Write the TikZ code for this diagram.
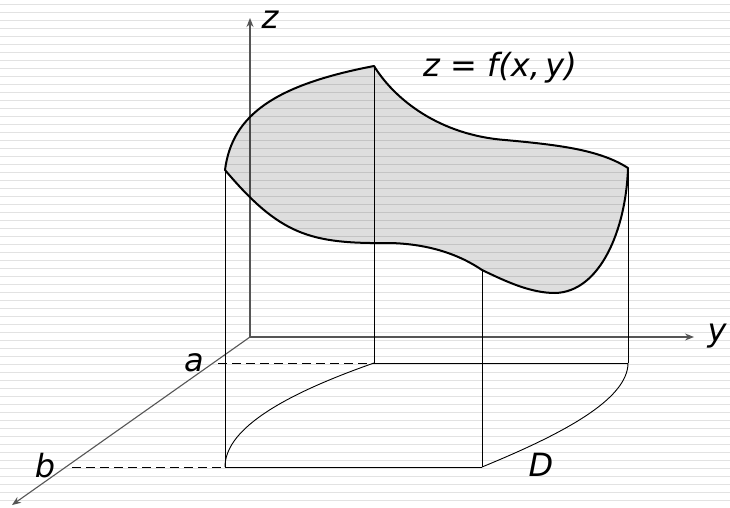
\documentclass[tikz,border=0pt]{standalone}
\usepackage{fontspec}
\setmainfont{DejaVu Sans}
\usetikzlibrary{arrows.meta,calc}
\definecolor{AxisGray}{HTML}{555555}
\definecolor{RuleGray}{HTML}{E2E2E2}

\begin{document}
\begin{tikzpicture}[x=1pt,y=-1pt,>={Stealth[length=9pt,width=7pt,inset=3pt]}]
  \tikzset{
    axis/.style={->,draw=AxisGray,line width=1.1pt},
    edge/.style={draw=black,line width=.9pt},
    hidden/.style={edge,dash pattern=on 9pt off 5pt},
    surf/.style={draw=black,line width=2pt,fill=black,fill opacity=.13,line join=round},
    lbl/.style={font=\itshape\fontsize{32}{36}\selectfont,inner sep=0pt}
  }
  \useasboundingbox (0,0) rectangle (730,508);
  \fill[white] (0,0) rectangle (730,508);
  \foreach \k in {0,...,62}
    \draw[RuleGray,line width=1pt] (0,{4.3+8*\k}) -- (730,{4.3+8*\k});

  \coordinate (O) at (250,337);
  \coordinate (ztip) at (250,18);
  \coordinate (ytip) at (694,337);
  \coordinate (xtip) at (12,505);
  \coordinate (A) at (225,170);
  \coordinate (B) at (374,66);
  \coordinate (C) at (628,168);
  \coordinate (E) at (482,270);
  \coordinate (Da) at (374,363);
  \coordinate (Db) at (628,363);
  \coordinate (Dc) at (482,467);
  \coordinate (Dd) at (225,467);
  \coordinate (xa) at (218,363);
  \coordinate (xb) at (72,467);

  \draw[axis] (O) -- (ztip);
  \draw[axis] (O) -- (ytip);
  \draw[axis] (O) -- (xtip);

  \draw[edge] (A) -- (Dd);
  \draw[edge] (B) -- (Da);
  \draw[edge] (E) -- (Dc);
  \draw[edge] (C) -- (Db);
  \draw[edge] (Da) -- (Db);
  \draw[edge] (Dd) -- (Dc);
  \draw[edge] (Dd) .. controls (225,432) and (274,398) .. (Da);
  \draw[edge] (Db) .. controls (628,400) and (560,435) .. (Dc);
  \draw[hidden] (xa) -- (Da);
  \draw[hidden] (xb) -- (Dd);

  \draw[surf] (A) .. controls (232,115) and (275,85) .. (B)
    .. controls (395,100) and (440,135) .. (505,140)
    .. controls (560,145) and (600,150) .. (C)
    .. controls (626,230) and (600,292) .. (555,293)
    .. controls (530,293) and (505,281) .. (E)
    .. controls (460,255) and (430,244) .. (390,243)
    .. controls (310,244) and (280,235) .. cycle;

  \node[lbl] (zlbl) at (270,20) {z};
  \node[lbl] (ylbl) at (717,336) {y};
  \node[lbl] (albl) at (194,363) {a};
  \node[lbl] (blbl) at (45,466) {b};
  \node[lbl] (Dlbl) at (541,465) {D};
  \node[lbl] (flbl) at (500,68) {z = f(x,\,y)};
\end{tikzpicture}
\end{document}
